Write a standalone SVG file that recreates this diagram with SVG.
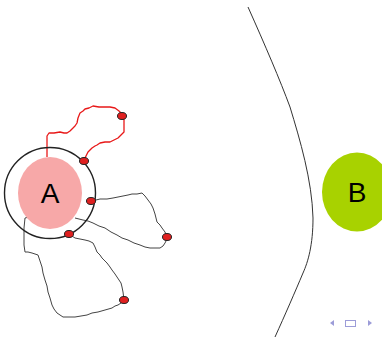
<svg xmlns="http://www.w3.org/2000/svg" width="382" height="338" viewBox="0 0 382 338">
  <style>
    .wire { fill: none; stroke: #444; stroke-width: 1; stroke-linejoin: round; }
    .wire-red { fill: none; stroke: #e81818; stroke-width: 1.3; stroke-linejoin: round; }
    .port { fill: #e02020; stroke: #222; stroke-width: 1; }
    .label { font-family: "Liberation Sans", Arial, sans-serif; font-size: 28px; fill: #000; text-anchor: middle; dominant-baseline: central; }
    .nav { fill: #9c9cd8; stroke: none; }
  </style>

  <rect width="382" height="338" fill="#ffffff"/>

  <!-- boundary curve -->
  <path d="M248,7 C265,45 280,80 290,107 C300,140 312,180 313,218 C313,245 308,262 303,273 C295,292 285,315 275,337" fill="none" stroke="#333" stroke-width="1"/>

  <!-- connectors -->
  <g id="connectors">
    <polyline class="wire-red" points="47,157 47,146 47,136 49,133 54,133 60,132 64,133 67,133 70,131 72,129 75,126 77,123 78,118 80,113 83,111 85,109 89,108 93,106 99,107 105,107 110,107 115,108 119,111 121,113 122,116 124,120 124,126 124,132 121,135 118,138 114,140 110,142 105,142 100,143 97,145 95,146 92,148 90,150 88,152 87,154 85,158 84,161"/>
    <polyline class="wire" points="91,201 96,200 100,199 107,199 113,198 118,197 123,196 128,195 132,194 137,194 142,193 145,196 148,200 151,204 153,208 155,214 157,222 160,225 162,228 165,232 167,237 166,241 165,243 163,246 160,248 155,248 150,248 145,247 140,245 134,243 128,240 122,238 117,235 111,232 105,228 99,226 93,223 88,221 83,220 79,219 75,218"/>
    <polyline class="wire" points="69,234 75,238 80,239 85,240 89,241 93,243 95,247 97,252 100,255 102,258 105,261 107,263 110,267 112,270 115,274 117,277 119,280 121,283 122,287 123,292 124,300 121,303 118,305 115,306 112,308 105,310 98,312 92,313 87,315 81,316 75,317 69,317 63,317 60,315 57,313 54,309 52,305 50,298 48,292 47,286 45,280 43,273 42,267 40,261 38,255 35,254 32,253 28,252 25,252 24,245 24,237 24,228 25,218 29,217"/>
  </g>

  <!-- node A -->
  <g id="node-A">
    <circle cx="50" cy="193" r="45.5" fill="none" stroke="#222" stroke-width="1.4"/>
    <ellipse cx="50" cy="193" rx="32" ry="36" fill="#f7a8a8"/>
    <text class="label" x="50" y="193">A</text>
  </g>

  <!-- ports -->
  <g id="ports">
    <ellipse class="port" cx="122" cy="116" rx="4.5" ry="3.5"/>
    <ellipse class="port" cx="84" cy="161" rx="4.5" ry="3.5"/>
    <ellipse class="port" cx="91" cy="201" rx="4.5" ry="3.5"/>
    <ellipse class="port" cx="167" cy="237" rx="4.5" ry="3.5"/>
    <ellipse class="port" cx="69" cy="234" rx="4.5" ry="3.5"/>
    <ellipse class="port" cx="124" cy="300" rx="4.5" ry="3.5"/>
  </g>

  <!-- node B -->
  <g id="node-B">
    <ellipse cx="357" cy="192" rx="35" ry="39.5" fill="#a8d200"/>
    <text class="label" x="357" y="192">B</text>
  </g>

  <!-- navigation symbols -->
  <g id="nav">
    <polygon class="nav" points="334,320 334,326 330,323"/>
    <rect x="345.5" y="320.5" width="10" height="6" fill="none" stroke="#9c9cd8" stroke-width="1"/>
    <polygon class="nav" points="368,320 368,326 372,323"/>
  </g>
</svg>
